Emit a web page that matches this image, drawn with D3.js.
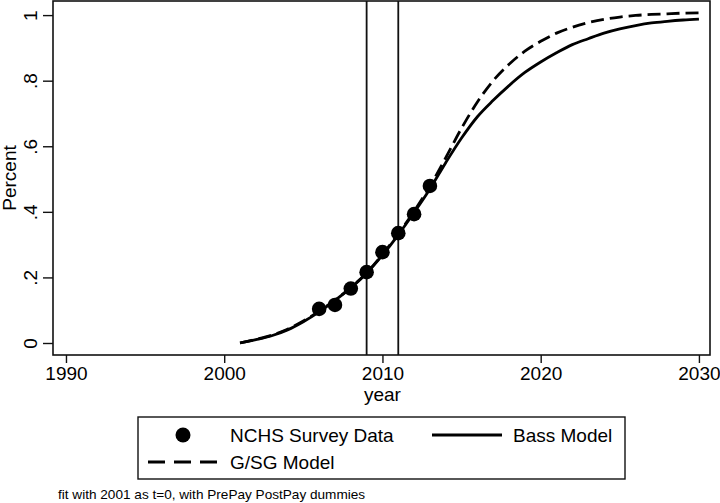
<!DOCTYPE html>
<html>
<head>
<meta charset="utf-8">
<script src="https://cdn.jsdelivr.net/npm/d3@7"></script>
<style>
	body { margin: 0; background: #fff; }
	text { font-family: "Liberation Sans", Arial, Helvetica, sans-serif; fill: #000; }
</style>
</head>
<body>
<div id="chart"></div>
<script>
// survey points
let surveyYears = [2006, 2007, 2008, 2009, 2010, 2011, 2012, 2013];
let surveyValues = [0.104, 0.116, 0.166, 0.216, 0.277, 0.335, 0.393, 0.479];

// fitted curves
let modelYears = [2001, 2002, 2003, 2004, 2005, 2006, 2007, 2008, 2009, 2010,
	2011, 2012, 2013, 2014, 2015, 2016, 2017, 2018, 2019, 2020,
	2021, 2022, 2023, 2024, 2025, 2026, 2027, 2028, 2029, 2030];
let bassValues = [0.0, 0.01, 0.022, 0.04, 0.065, 0.095, 0.13, 0.168, 0.213, 0.268,
	0.33, 0.398, 0.47, 0.55, 0.625, 0.69, 0.74, 0.785, 0.825, 0.857,
	0.885, 0.91, 0.928, 0.945, 0.958, 0.968, 0.976, 0.981, 0.985, 0.988];
let gsgValues = [0.0, 0.011, 0.024, 0.042, 0.067, 0.097, 0.131, 0.169, 0.214, 0.27,
	0.333, 0.402, 0.478, 0.565, 0.655, 0.735, 0.8, 0.85, 0.89, 0.92,
	0.945, 0.963, 0.977, 0.987, 0.994, 0.999, 1.002, 1.004, 1.006, 1.007];

// vertical reference lines (PrePay / PostPay)
let refYears = [2009, 2011];

let xTicks = [1990, 2000, 2010, 2020, 2030];
let yTicks = [0, 0.2, 0.4, 0.6, 0.8, 1];
let yTickLabels = ["0", ".2", ".4", ".6", ".8", "1"];

let footnote = "fit with 2001 as t=0, with PrePay PostPay dummies";

let svg, x, y;
let width = 720, height = 503;

//
//	initD3
//
initD3 = function () {
	svg = d3.select("#chart").append("svg")
		.attr("width", width)
		.attr("height", height);

	x = d3.scaleLinear().domain([1989.18, 2030.7]).range([53, 710]);
	y = d3.scaleLinear().domain([-0.0366, 1.043]).range([355, 1]);
};

//
//	drawAxes
//
drawAxes = function () {
	// plot box
	svg.append("rect")
		.attr("x", x.range()[0]).attr("y", y.range()[1])
		.attr("width", x.range()[1] - x.range()[0])
		.attr("height", y.range()[0] - y.range()[1])
		.attr("fill", "none").attr("stroke", "#111").attr("stroke-width", 1.6);

	let xAxis = svg.append("g")
		.attr("transform", "translate(0," + y.range()[0] + ")")
		.call(d3.axisBottom(x).tickValues(xTicks).tickSize(8).tickPadding(4).tickFormat(d3.format("d")));
	xAxis.select(".domain").remove();
	xAxis.selectAll("line").attr("stroke", "#111").attr("stroke-width", 1.4);
	xAxis.selectAll("text").attr("font-size", "19px").attr("fill", "#000");

	let yAxis = svg.append("g")
		.attr("transform", "translate(" + x.range()[0] + ",0)")
		.call(d3.axisLeft(y).tickValues(yTicks).tickSize(10).tickFormat((d, i) => yTickLabels[i]));
	yAxis.select(".domain").remove();
	yAxis.selectAll("line").attr("stroke", "#111").attr("stroke-width", 1.4);
	// stata style: vertical tick labels
	yAxis.selectAll("text")
		.attr("font-size", "19px").attr("fill", "#000")
		.attr("x", null).attr("dy", null)
		.attr("text-anchor", "middle")
		.attr("transform", "translate(-16,0) rotate(-90)");

	svg.append("text")
		.attr("x", x(2010)).attr("y", 401)
		.attr("text-anchor", "middle").attr("font-size", "19px")
		.text("year");

	svg.append("text")
		.attr("transform", "translate(16," + (y.range()[0] + y.range()[1]) / 2 + ") rotate(-90)")
		.attr("text-anchor", "middle").attr("font-size", "19px")
		.text("Percent");
};

//
//	drawSeries
//
drawSeries = function () {
	svg.selectAll(".ref").data(refYears).enter().append("line")
		.attr("class", "ref")
		.attr("x1", (d) => x(d)).attr("x2", (d) => x(d))
		.attr("y1", y.range()[1]).attr("y2", y.range()[0])
		.attr("stroke", "#111").attr("stroke-width", 1.8);

	let line = d3.line().curve(d3.curveMonotoneX)
		.x((d, i) => x(modelYears[i]))
		.y((d) => y(d));

	svg.append("path").datum(gsgValues)
		.attr("d", line)
		.attr("fill", "none").attr("stroke", "#000")
		.attr("stroke-width", 2.8).attr("stroke-dasharray", "13,6");

	svg.append("path").datum(bassValues)
		.attr("d", line)
		.attr("fill", "none").attr("stroke", "#000")
		.attr("stroke-width", 2.8);

	svg.selectAll(".pt").data(surveyValues).enter().append("circle")
		.attr("class", "pt")
		.attr("cx", (d, i) => x(surveyYears[i]))
		.attr("cy", (d) => y(d))
		.attr("r", 7.3).attr("fill", "#000");
};

//
//	drawLegend
//
drawLegend = function () {
	let g = svg.append("g");
	g.append("rect")
		.attr("x", 138).attr("y", 417).attr("width", 487).attr("height", 62)
		.attr("fill", "#fff").attr("stroke", "#111").attr("stroke-width", 1.4);

	g.append("circle").attr("cx", 183).attr("cy", 435).attr("r", 7.5).attr("fill", "#000");
	g.append("text").attr("x", 230).attr("y", 442).attr("font-size", "19px").text("NCHS Survey Data");

	g.append("line").attr("x1", 432).attr("x2", 502).attr("y1", 435).attr("y2", 435)
		.attr("stroke", "#000").attr("stroke-width", 2.8);
	g.append("text").attr("x", 513).attr("y", 442).attr("font-size", "19px").text("Bass Model");

	g.append("line").attr("x1", 148).attr("x2", 218).attr("y1", 462).attr("y2", 462)
		.attr("stroke", "#000").attr("stroke-width", 2.8).attr("stroke-dasharray", "17,9");
	g.append("text").attr("x", 230).attr("y", 469).attr("font-size", "19px").text("G/SG Model");

	svg.append("text").attr("x", 58).attr("y", 499).attr("font-size", "13.6px").text(footnote);
};

initD3();
drawAxes();
drawSeries();
drawLegend();
</script>
</body>
</html>
